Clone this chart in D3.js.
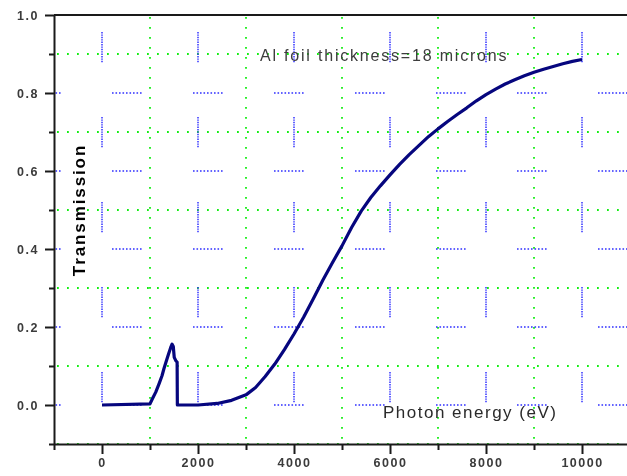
<!DOCTYPE html>
<html>
<head>
<meta charset="utf-8">
<script src="https://cdn.jsdelivr.net/npm/d3@7"></script>
<style>
  html, body { margin: 0; padding: 0; background: #fff; }
  svg { display: block; }
  text { font-family: "Liberation Sans", Arial, sans-serif; }
</style>
</head>
<body>
<svg id="chart" width="627" height="476"></svg>
<script>
// Transmission of an 18 µm aluminium foil versus photon energy
const energy = [0, 1000, 1050, 1120, 1190, 1250, 1290, 1340, 1390, 1430, 1460, 1485, 1505, 1540, 1565, 1570,
  2000, 2400, 2700, 3000, 3200, 3400, 3600, 3800, 4000, 4200, 4400, 4600, 4800, 5000, 5200, 5400,
  5600, 5800, 6000, 6200, 6400, 6600, 6800, 7000, 7200, 7400, 7600, 7800, 8000, 8200, 8400, 8600,
  8800, 9000, 9200, 9400, 9600, 9800, 10000];
const transmission = [0, 0.003, 0.016, 0.033, 0.055, 0.075, 0.093, 0.113, 0.132, 0.147, 0.156, 0.150, 0.122, 0.113, 0.110, 0.0,
  0.0, 0.004, 0.012, 0.026, 0.045, 0.073, 0.105, 0.142, 0.182, 0.225, 0.272, 0.320, 0.365, 0.408, 0.455, 0.497,
  0.532, 0.562, 0.590, 0.617, 0.642, 0.665, 0.688, 0.708, 0.727, 0.745, 0.762, 0.780, 0.796, 0.810, 0.823, 0.834,
  0.844, 0.853, 0.861, 0.868, 0.875, 0.881, 0.886];

const xMajorTicks = [0, 2000, 4000, 6000, 8000, 10000];
const xMinorTicks = [-1000, 1000, 3000, 5000, 7000, 9000];
const yMajorTicks = [0.0, 0.2, 0.4, 0.6, 0.8, 1.0];
const yMinorTicks = [-0.1, 0.1, 0.3, 0.5, 0.7, 0.9];

const xTitle = "Photon energy (eV)";
const yTitle = "Transmission";
const note = "Al foil thickness=18 microns";

const svg = d3.select("#chart");
const plotL = 54, plotR = 630, plotT = 15, plotB = 444;

const x = d3.scaleLinear().domain([-1000, 11000]).range([plotL, plotR]);
const y = d3.scaleLinear().domain([-0.1, 1.0]).range([plotB, plotT]);

const defs = svg.append("defs");
defs.append("clipPath").attr("id", "plot-clip")
  .append("rect").attr("x", plotL).attr("y", plotT).attr("width", plotR - plotL).attr("height", plotB - plotT);
// slight softening of the lettering
defs.append("filter").attr("id", "soft").attr("x", "-5%").attr("y", "-20%").attr("width", "110%").attr("height", "140%")
  .append("feGaussianBlur").attr("stdDeviation", 0.45);

const grid = svg.append("g").attr("clip-path", "url(#plot-clip)");

// dotted dash pattern: n dots of size d, pitch p, then a long gap to fill the period
function dotDash(n, d, p, period) {
  const arr = [];
  for (let i = 0; i < n; i++) {
    arr.push(d);
    arr.push(i < n - 1 ? p - d : period - ((n - 1) * p + d));
  }
  return arr.join(",");
}

// minor grid: bright green dots
grid.selectAll("line.gx-minor").data(xMinorTicks).join("line")
  .attr("class", "gx-minor")
  .attr("x1", d => x(d)).attr("x2", d => x(d))
  .attr("y1", plotT).attr("y2", plotB)
  .attr("stroke", "#14ee14").attr("stroke-width", 1.8)
  .attr("stroke-dasharray", "1.8,8.2").attr("stroke-dashoffset", -12);

grid.selectAll("line.gy-minor").data(yMinorTicks).join("line")
  .attr("class", "gy-minor")
  .attr("x1", plotL).attr("x2", plotR)
  .attr("y1", d => y(d)).attr("y2", d => y(d))
  .attr("stroke", "#14ee14").attr("stroke-width", 1.8)
  .attr("stroke-dasharray", "1.8,8.2").attr("stroke-dashoffset", -13);

// major grid: short blue dotted dashes
grid.selectAll("line.gx-major").data(xMajorTicks).join("line")
  .attr("class", "gx-major")
  .attr("x1", d => x(d)).attr("x2", d => x(d))
  .attr("y1", plotT).attr("y2", plotB)
  .attr("stroke", "#3030ff").attr("stroke-width", 1.5)
  .attr("stroke-dasharray", dotDash(13, 1.4, 2.4, 85)).attr("stroke-dashoffset", 68);

grid.selectAll("line.gy-major").data(yMajorTicks.filter(v => v < 1)).join("line")
  .attr("class", "gy-major")
  .attr("x1", plotL).attr("x2", plotR)
  .attr("y1", d => y(d)).attr("y2", d => y(d))
  .attr("stroke", "#3030ff").attr("stroke-width", 1.5)
  .attr("stroke-dasharray", dotDash(9, 1.6, 3.5, 81)).attr("stroke-dashoffset", 23);

// transmission curve
const line = d3.line().x((d, i) => x(energy[i])).y(d => y(d));
svg.append("path")
  .datum(transmission)
  .attr("d", line)
  .attr("fill", "none")
  .attr("stroke", "#06067e")
  .attr("stroke-width", 3.2)
  .attr("stroke-linejoin", "round");

// axes
const axisColor = "#1a1a1a";
const labelColor = "#3a3a3a";

svg.append("g").attr("transform", `translate(0,${plotB})`)
  .call(d3.axisBottom(x).tickValues(xMajorTicks).tickSize(10).tickSizeOuter(0).tickPadding(4)
    .tickFormat(d3.format("d")));
svg.append("g").attr("transform", `translate(0,${plotB})`)
  .call(d3.axisBottom(x).tickValues(xMinorTicks).tickSize(6).tickFormat(""))
  .call(g => g.select(".domain").remove());

svg.append("g").attr("transform", `translate(${plotL},0)`)
  .call(d3.axisLeft(y).tickValues(yMajorTicks).tickSize(9).tickSizeOuter(0).tickPadding(6)
    .tickFormat(d3.format(".1f")));
svg.append("g").attr("transform", `translate(${plotL},0)`)
  .call(d3.axisLeft(y).tickValues(yMinorTicks).tickSize(5).tickFormat(""))
  .call(g => g.select(".domain").remove());

svg.selectAll(".domain, .tick line").attr("stroke", axisColor).attr("stroke-width", 2);
svg.selectAll(".tick text")
  .attr("fill", labelColor)
  .attr("filter", "url(#soft)")
  .style("font-size", "12.5px")
  .style("font-weight", "bold")
  .style("letter-spacing", "1.5px");

// top frame line
svg.append("line")
  .attr("x1", plotL).attr("x2", plotR + 10)
  .attr("y1", plotT).attr("y2", plotT)
  .attr("stroke", axisColor).attr("stroke-width", 2);

// titles and note
svg.append("text")
  .attr("transform", `translate(85,${(y(0.6) + y(0.4)) / 2}) rotate(-90)`)
  .attr("text-anchor", "middle")
  .attr("fill", "#000")
  .attr("filter", "url(#soft)")
  .style("font-size", "17px").style("font-weight", "bold").style("letter-spacing", "1.9px")
  .text(yTitle);

svg.append("text")
  .attr("x", 383).attr("y", 418)
  .attr("fill", "#2a2a2a")
  .attr("filter", "url(#soft)")
  .style("font-size", "17px").style("letter-spacing", "1.5px")
  .text(xTitle);

svg.append("text")
  .attr("x", 260).attr("y", 61)
  .attr("fill", "#3c3c3c")
  .attr("filter", "url(#soft)")
  .style("font-size", "16px").style("letter-spacing", "1.8px")
  .text(note);
</script>
</body>
</html>
